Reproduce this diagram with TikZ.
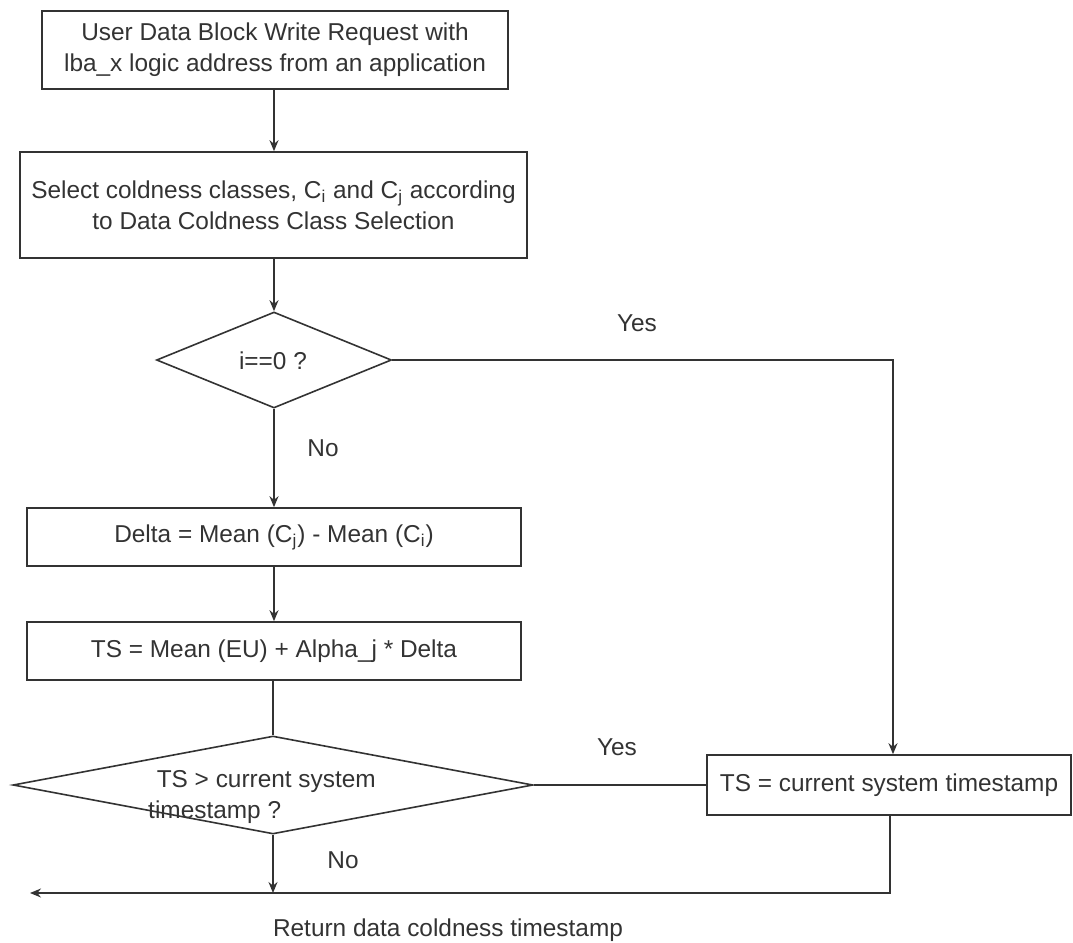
\documentclass[tikz,border=0pt]{standalone}
\usepackage{fontspec}
\setmainfont{Liberation Sans}
\usetikzlibrary{shapes.geometric,arrows.meta}
\begin{document}
\begin{tikzpicture}[x=0.5pt,y=-0.5pt,
  every node/.style={text=black!80, font=\fontsize{12.2}{15.5}\selectfont},
  flowline/.style={draw=black!80, line width=0.8pt},
  arr/.style={flowline, -{Stealth[length=5.5pt,width=4.5pt]}},
  procbox/.style={draw=black!80, line width=0.8pt, rectangle, inner sep=0pt, align=center},
  decision/.style={draw=black!80, line width=0.8pt, diamond, inner sep=0pt},
  lbl/.style={inner sep=0pt}]
\useasboundingbox (0,0) rectangle (1073,943);

% process boxes (sized to their drawn frames)
\node[procbox, minimum width=466*0.5pt, minimum height=78*0.5pt] (req) at (275,50)
  {User Data Block Write Request with\\ lba\_x logic address from an application};
\node[procbox, minimum width=507*0.5pt, minimum height=106*0.5pt] (sel) at (273.5,205)
  {Select coldness classes, C\textsubscript{i} and C\textsubscript{j} according\\ to Data Coldness Class Selection};
\node[procbox, minimum width=494*0.5pt, minimum height=58*0.5pt] (delta) at (274,537)
  {Delta = Mean (C\textsubscript{j}) - Mean (C\textsubscript{i})};
\node[procbox, minimum width=494*0.5pt, minimum height=58*0.5pt] (ts) at (274,651)
  {TS = Mean (EU) + Alpha\_j * Delta};
\node[procbox, minimum width=364*0.5pt, minimum height=60*0.5pt] (cur) at (889,785)
  {TS = current system timestamp};

% decisions
\node[decision, minimum width=235*0.5pt, minimum height=96*0.5pt] (d1) at (274,360) {};
\node[lbl] (d1t) at (273,361) {i==0 ?};
\node[decision, minimum width=520*0.5pt, minimum height=98*0.5pt] (d2) at (273,785) {};
\node[lbl, align=left] (d2t) at (262,797) {\hspace{0.35em}TS > current system\\timestamp ?};

% junction points of the return line
\coordinate (curdown) at (890,893);
\coordinate (retend) at (30,893);
\coordinate (d2down) at (273,893);
\coordinate (yescorner) at (893,360);

% connectors
\draw[arr] (req.south -| 274,0) -- (sel.north -| 274,0);
\draw[arr] (sel.south -| 274,0) -- (d1.north);
\draw[arr] (d1.south) -- (delta.north);
\draw[arr] (delta.south) -- (ts.north);
\draw[flowline] (ts.south -| d2.north) -- (d2.north);
\draw[arr] (d1.east) -- (yescorner) -- (cur.north -| yescorner);
\draw[flowline] (d2.east) -- (cur.west);
\draw[arr] (cur.south -| curdown) -- (curdown) -- (retend);
\draw[arr] (d2.south) -- (d2down);

% labels
\node[lbl] (yes1) at (637,323) {Yes};
\node[lbl] (no1) at (323,448) {No};
\node[lbl] (yes2) at (617,747) {Yes};
\node[lbl] (no2) at (343,860) {No};
\node[lbl] (ret) at (448,930) {Return data coldness timestamp};
\end{tikzpicture}
\end{document}
